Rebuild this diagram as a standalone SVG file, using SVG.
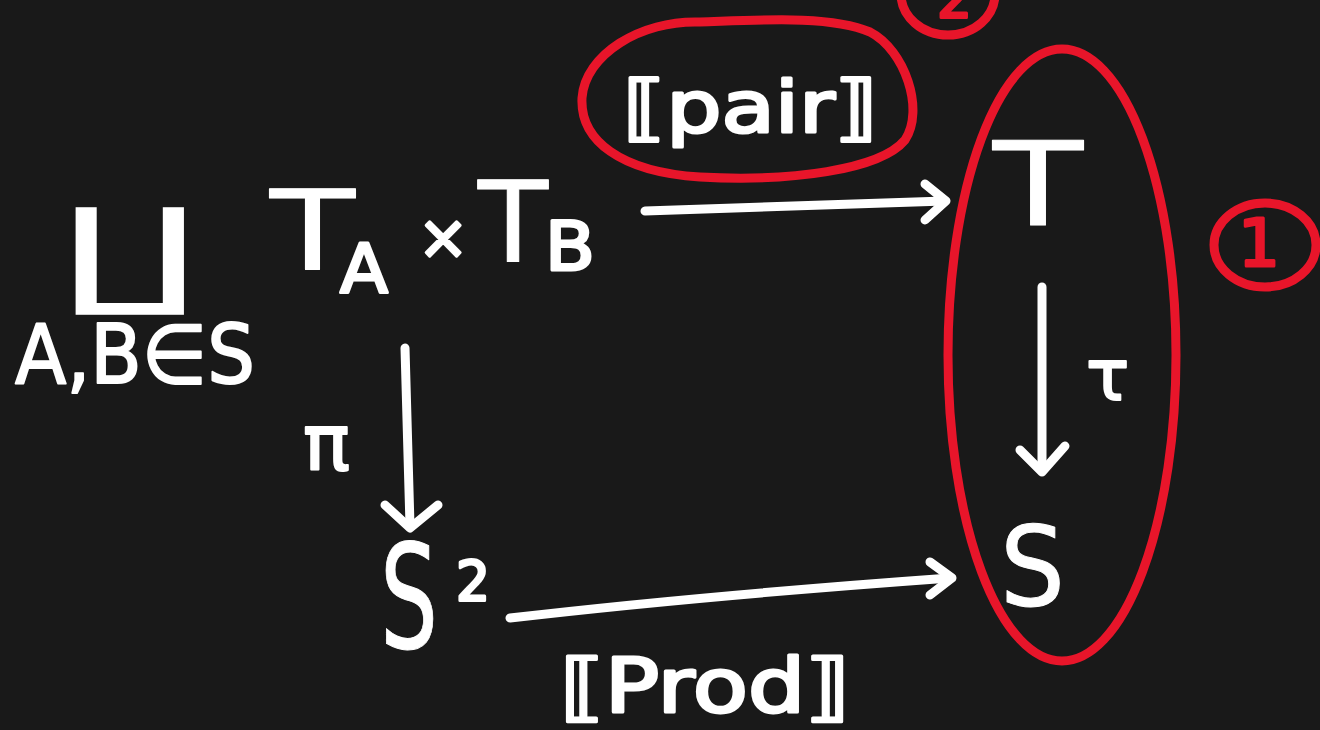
<svg xmlns="http://www.w3.org/2000/svg" width="1320" height="730" viewBox="0 0 1320 730">
<style>
.t{font-family:"DejaVu Sans","Liberation Sans",sans-serif;fill:#fff;stroke:#fff;stroke-linejoin:round}
.r{font-family:"DejaVu Sans","Liberation Sans",sans-serif;fill:#e8152a;stroke:#e8152a;stroke-linejoin:round}
.w{fill:none;stroke:#fff;stroke-width:9;stroke-linecap:round;stroke-linejoin:round}
.red{fill:none;stroke:#e8152a;stroke-width:9;stroke-linecap:round;stroke-linejoin:round}
</style>
<rect width="1320" height="730" fill="#191919"/>
<g id="coproduct">
<text class="t" x="62" y="292" font-size="118" stroke-width="0" textLength="136" lengthAdjust="spacingAndGlyphs">∐</text>
<text class="t" x="15" y="383" font-size="82" stroke-width="2" textLength="240" lengthAdjust="spacingAndGlyphs">A,B∈S</text>
</g>
<g id="product">
<text class="t" x="270" y="270" font-size="110" stroke-width="1" textLength="85" lengthAdjust="spacingAndGlyphs">T</text>
<text class="t" x="340" y="293" font-size="68" stroke-width="3" textLength="48" lengthAdjust="spacingAndGlyphs">A</text>
<text class="t" x="418" y="258" font-size="60" stroke-width="3">×</text>
<text class="t" x="478" y="262" font-size="112" stroke-width="1" textLength="70" lengthAdjust="spacingAndGlyphs">T</text>
<text class="t" x="545" y="270" font-size="68" stroke-width="3" textLength="50" lengthAdjust="spacingAndGlyphs">B</text>
</g>
<g id="S2">
<text class="t" x="380" y="648" font-size="145" stroke-width="1" textLength="58" lengthAdjust="spacingAndGlyphs">S</text>
<text class="t" x="456" y="600" font-size="55" stroke-width="3" textLength="34" lengthAdjust="spacingAndGlyphs">2</text>
</g>
<g id="T">
<text class="t" x="993" y="225" font-size="115" stroke-width="1" textLength="90" lengthAdjust="spacingAndGlyphs">T</text>
</g>
<g id="S">
<text class="t" x="1000" y="605" font-size="110" stroke-width="1" textLength="65" lengthAdjust="spacingAndGlyphs">S</text>
</g>
<g id="connectors">
<path class="w" d="M645 211 L945 201"/>
<path class="w" d="M925 184 L946 201 L925 220"/>
<path class="w" d="M405 348 L410 526"/>
<path class="w" d="M385 505 L410 528 L438 505"/>
<path class="w" d="M510 618 Q700 596 950 578"/>
<path class="w" d="M930 562 L952 578 L930 595"/>
<path class="w" d="M1042 287 L1042 470"/>
<path class="w" d="M1020 450 L1042 472 L1065 446"/>
<text class="t" x="303" y="470" font-size="78" stroke-width="2">π</text>
<text class="t" x="1086" y="400" font-size="72" stroke-width="2">τ</text>
<text class="t" x="560" y="712" font-size="74" stroke-width="3" textLength="290" lengthAdjust="spacingAndGlyphs">⟦Prod⟧</text>
<text class="t" x="623" y="132" font-size="72" stroke-width="3" textLength="255" lengthAdjust="spacingAndGlyphs">⟦pair⟧</text>
</g>
<g id="annotations">
<ellipse class="red" cx="1062" cy="355" rx="114" ry="306"/>
<path class="red" d="M700 22 C640 20 585 55 582 98 C580 140 620 172 700 177 C790 182 880 170 905 140 C925 110 905 50 870 32 C830 15 760 20 700 22 Z"/>
<ellipse class="red" cx="1265" cy="245" rx="51" ry="42"/>
<text class="r" x="1238" y="266" font-size="66" stroke-width="3">1</text>
<ellipse class="red" cx="948" cy="-6" rx="47" ry="41"/>
<text class="r" x="937" y="17" font-size="55" stroke-width="3">2</text>
</g>
</svg>
